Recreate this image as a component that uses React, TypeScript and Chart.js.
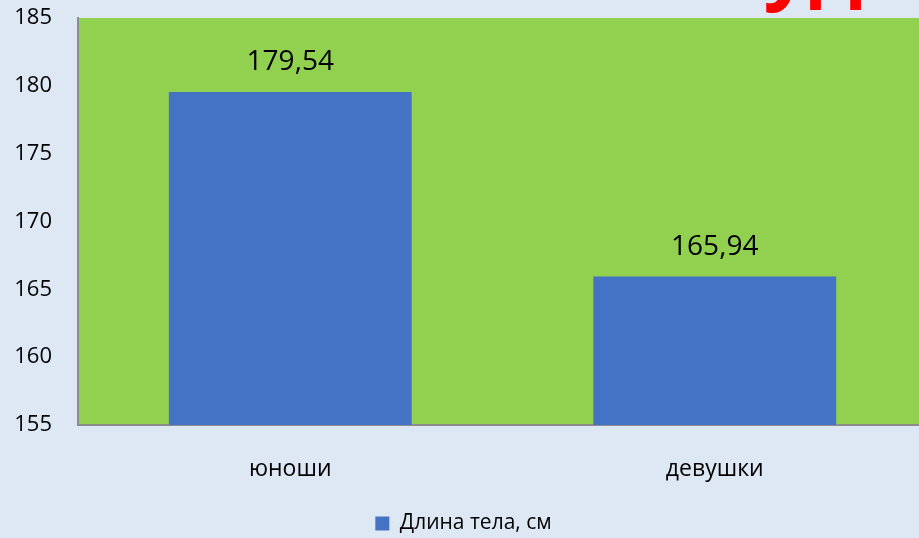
import React, { useEffect, useRef } from "react";
import { Chart, registerables } from "chart.js";

Chart.register(...registerables);

const categories = ["юноши", "девушки"];
const seriesName = "Длина тела, см";
const values = [179.54, 165.94];
const yMin = 155;
const yMax = 185;
const yStep = 5;
const clippedTitle = "студентов";

const FONT = "'Open Sans', sans-serif";

const bgPlugin = {
  id: "bgPlugin",
  beforeDraw(chart: any) {
    const { ctx, chartArea, width, height } = chart;
    ctx.save();
    ctx.fillStyle = "#dee8f4";
    ctx.fillRect(0, 0, width, height);
    ctx.fillStyle = "#92d050";
    ctx.fillRect(chartArea.left, chartArea.top, chartArea.right - chartArea.left, chartArea.bottom - chartArea.top);
    ctx.restore();
  },
  afterDraw(chart: any) {
    const { ctx } = chart;
    ctx.save();
    ctx.fillStyle = "#ff0000";
    ctx.font = `bold 80px ${FONT}`;
    ctx.textBaseline = "alphabetic";
    ctx.textAlign = "left";
    ctx.fillText(clippedTitle, 678, -6);
    ctx.restore();
  },
};

const labelPlugin = {
  id: "labelPlugin",
  afterDatasetsDraw(chart: any) {
    const { ctx } = chart;
    const meta = chart.getDatasetMeta(0);
    ctx.save();
    ctx.fillStyle = "#000000";
    ctx.font = `28px ${FONT}`;
    ctx.textAlign = "center";
    ctx.textBaseline = "middle";
    meta.data.forEach((bar: any, i: number) => {
      const txt = values[i].toFixed(2).replace(".", ",");
      ctx.fillText(txt, bar.x, bar.y - 30);
    });
    ctx.restore();
  },
};

export default function App() {
  const ref = useRef<HTMLCanvasElement | null>(null);
  useEffect(() => {
    if (!ref.current) return;
    const chart = new Chart(ref.current, {
      type: "bar",
      data: {
        labels: categories,
        datasets: [
          {
            label: seriesName,
            data: values,
            backgroundColor: "#4472c4",
            borderWidth: 0,
            categoryPercentage: 0.572,
            barPercentage: 1,
          },
        ],
      },
      options: {
        animation: false,
        responsive: false,
        layout: { padding: { top: 18, left: 0, right: 0, bottom: 0 } },
        scales: {
          x: {
            grid: { display: false, drawTicks: false },
            border: { display: true, color: "#8c8c8c", width: 2 },
            ticks: { color: "#000", font: { family: FONT, size: 23 }, padding: 31 },
            afterFit: (s: any) => {
              s.height = 82;
              s.paddingLeft = 0;
              s.paddingRight = 0;
            },
          },
          y: {
            min: yMin,
            max: yMax,
            grid: { display: false, drawTicks: false },
            border: { display: true, color: "#8c8c8c", width: 2 },
            ticks: { stepSize: yStep, color: "#000", font: { family: FONT, size: 22 }, padding: 26 },
            afterFit: (s: any) => {
              s.width = 78;
              s.paddingTop = 0;
              s.paddingBottom = 0;
            },
          },
        },
        plugins: {
          legend: {
            position: "bottom",
            labels: {
              color: "#000",
              font: { family: FONT, size: 21 },
              boxWidth: 14,
              boxHeight: 14,
              padding: 6,
            },
          },
          tooltip: { enabled: false },
        },
      },
      plugins: [bgPlugin, labelPlugin],
    });
    return () => chart.destroy();
  }, []);
  return (
    <div
      style={{
        position: "fixed",
        left: 0,
        top: 0,
        width: 919,
        height: 538,
        overflow: "hidden",
        background: "#dee8f4",
      }}
    >
      <canvas ref={ref} width={927} height={544} style={{ display: "block", width: 927, height: 544 }} />
    </div>
  );
}
